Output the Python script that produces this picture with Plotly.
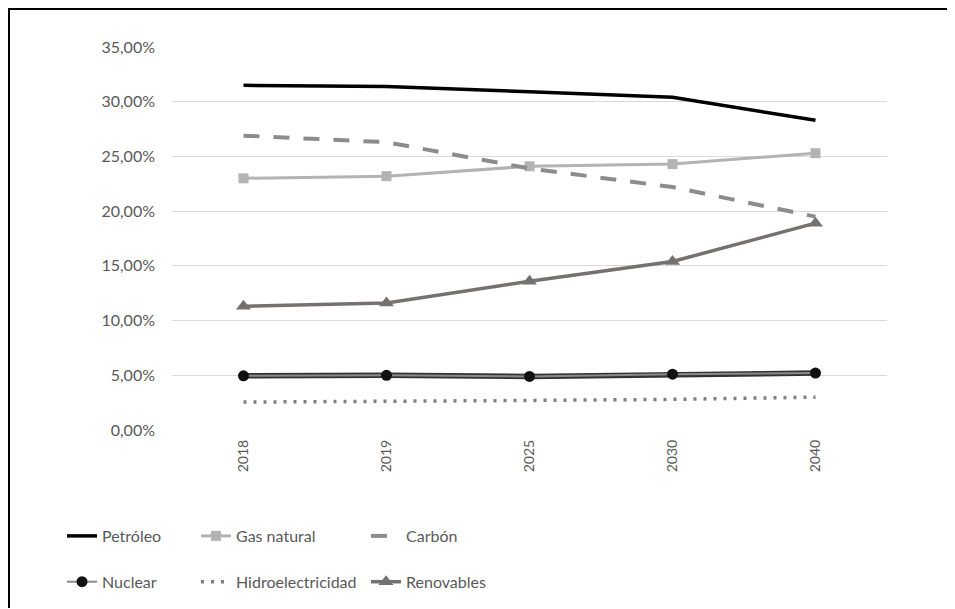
import plotly.graph_objects as go

years = ["2018", "2019", "2025", "2030", "2040"]
petroleo = [31.5, 31.4, 30.9, 30.4, 28.3]
gas_natural = [23.0, 23.2, 24.1, 24.3, 25.3]
carbon = [26.9, 26.3, 23.9, 22.2, 19.5]
nuclear = [4.95, 5.0, 4.9, 5.1, 5.2]
hidro = [2.55, 2.6, 2.7, 2.8, 3.0]
renovables = [11.3, 11.6, 13.6, 15.4, 18.9]
y_ticks = [0, 5, 10, 15, 20, 25, 30, 35]
y_tick_labels = ["0,00%", "5,00%", "10,00%", "15,00%", "20,00%", "25,00%", "30,00%", "35,00%"]

W, H = 947, 601
L, R, T, B = 164, 68, 39, 179
pw, ph = W - L - R, H - T - B

def px_x(px):
    return (px - L) / pw

def px_y(py):
    return (H - B - py) / ph

fig = go.Figure()

fig.add_trace(go.Scatter(x=years, y=petroleo, name="Petróleo", mode="lines",
                         line=dict(color="#000000", width=3.5),
                         legend="legend", legendgroup="a"))
fig.add_trace(go.Scatter(x=years, y=nuclear, name="Nuclear", mode="lines",
                         line=dict(color="#333333", width=5.5),
                         showlegend=False, legendgroup="b"))
fig.add_trace(go.Scatter(x=years, y=nuclear, name="Nuclear", mode="lines+markers",
                         line=dict(color="#8a8a8a", width=2),
                         marker=dict(symbol="circle", size=11, color="#111111"),
                         legend="legend", legendgroup="b"))
fig.add_trace(go.Scatter(x=years, y=gas_natural, name="Gas natural", mode="lines+markers",
                         line=dict(color="#b3b3b3", width=3),
                         marker=dict(symbol="square", size=10, color="#b3b3b3"),
                         legend="legend2", legendgroup="c"))
fig.add_trace(go.Scatter(x=years, y=hidro, name="Hidroelectricidad", mode="lines",
                         line=dict(color="#7f7f7f", width=3.5, dash="3px,7px"),
                         legend="legend2", legendgroup="d"))
fig.add_trace(go.Scatter(x=years, y=carbon, name="Carbón", mode="lines",
                         line=dict(color="#8c8c8c", width=4, dash="16px,14px"),
                         legend="legend3", legendgroup="e"))
fig.add_trace(go.Scatter(x=years, y=renovables, name="Renovables", mode="lines+markers",
                         line=dict(color="#767171", width=3.5),
                         marker=dict(symbol="triangle-up", size=13, color="#767171"),
                         legend="legend3", legendgroup="f"))

leg_common = dict(orientation="v", xref="container", yref="container",
                  yanchor="top", xanchor="left", bgcolor="rgba(0,0,0,0)",
                  font=dict(family="Lato", size=16, color="#595959"),
                  tracegroupgap=22, itemwidth=30)

fig.update_layout(
    width=W, height=H,
    margin=dict(l=L, r=R, t=T, b=B, autoexpand=False),
    paper_bgcolor="white", plot_bgcolor="white",
    font=dict(family="Lato", color="#595959"),
    xaxis=dict(type="category", showgrid=False, showline=False, zeroline=False,
               ticks="", tickangle=-90, tickfont=dict(size=14, color="#595959"),
               ticklabelstandoff=6, range=[-0.5, 4.5], automargin=False),
    yaxis=dict(range=[0, 35], tickvals=y_ticks, ticktext=y_tick_labels,
               showgrid=True, gridcolor="#d9d9d9", gridwidth=1, zeroline=False,
               showline=False, ticks="", tickfont=dict(size=16, color="#595959"),
               ticklabelstandoff=16, automargin=False),
    legend=dict(x=54 / W, y=1 - 511 / H, **leg_common),
    legend2=dict(x=188 / W, y=1 - 511 / H, **leg_common),
    legend3=dict(x=358 / W, y=1 - 511 / H, **leg_common),
    showlegend=True,
)

border_path = "M {x0},{y0} L {x1},{y1} L {x2},{y2}".format(
    x0=px_x(1), y0=px_y(H - 1), x1=px_x(1), y1=px_y(1), x2=px_x(W - 1), y2=px_y(1))
fig.add_shape(type="path", xref="paper", yref="paper", path=border_path,
              line=dict(color="black", width=2), fillcolor="rgba(0,0,0,0)",
              layer="below")

fig.write_html("out.html")
